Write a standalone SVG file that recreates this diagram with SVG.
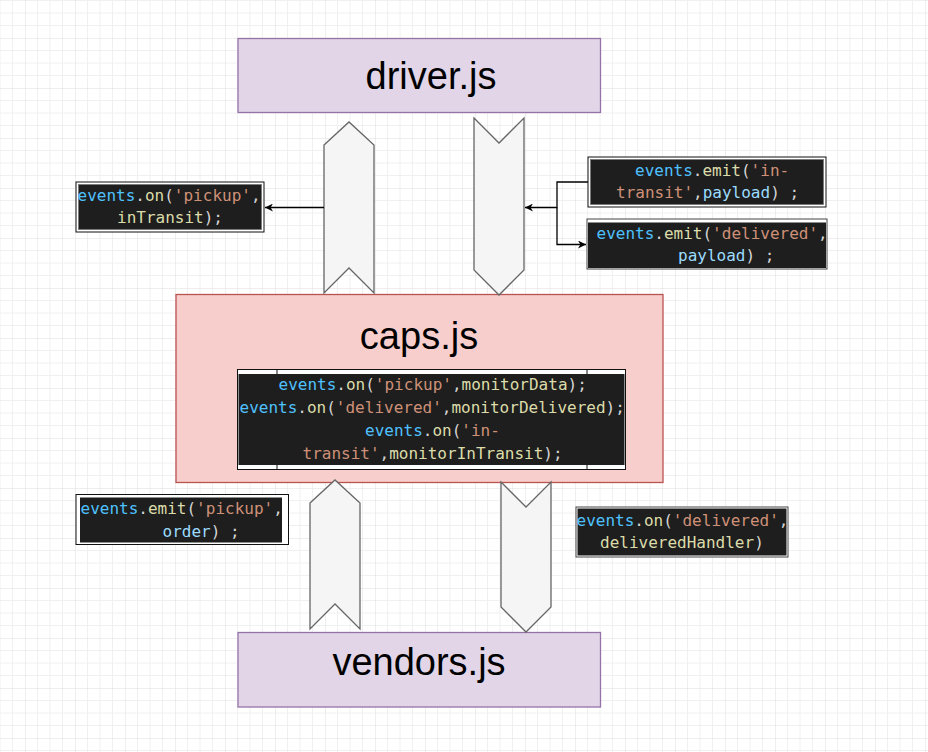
<svg xmlns="http://www.w3.org/2000/svg" width="928" height="752" viewBox="0 0 928 752">
<style>
.title{font-family:"Liberation Sans",Arial,sans-serif;font-size:38px;fill:#000;text-anchor:middle}
.code{font-family:"DejaVu Sans Mono","Liberation Mono",monospace;font-size:16px;fill:#d4d4d4}
.v{fill:#4fc1ff}.f{fill:#dcdcaa}.s{fill:#ce9178}.p{fill:#9cdcfe}
.js{fill:#e1d5e7;stroke:#9673a6;stroke-width:1.3}
.caps{fill:#f8cecc;stroke:#b85450;stroke-width:1.3}
.flow{fill:#f5f5f5;stroke:#666;stroke-width:1.3}
.outer{fill:#fff;stroke:#111;stroke-width:1}
.inner{fill:#1e1e1e}
.edge{fill:none;stroke:#000;stroke-width:1.3}
</style>
<defs>
<pattern id="grid" x="25" y="38" width="50" height="50" patternUnits="userSpaceOnUse">
<path d="M12.5,0V50M25,0V50M37.5,0V50M0,12.5H50M0,25H50M0,37.5H50" stroke="#f0f0f0" stroke-width="1" fill="none"/>
<path d="M0,0V50M0,0H50" stroke="#dedede" stroke-width="1" fill="none"/>
</pattern>
<marker id="arr" viewBox="0 0 10 10" refX="10" refY="5" markerWidth="9" markerHeight="8" markerUnits="userSpaceOnUse" orient="auto">
<path d="M0,0L10,5L0,10L3,5Z" fill="#000"/>
</marker>
</defs>
<rect width="928" height="752" fill="#fff"/>
<rect width="928" height="752" fill="url(#grid)"/>

<g id="driver">
<rect class="js" x="238" y="38.5" width="362.5" height="74"/>
<text class="title" x="431" y="89">driver.js</text>
</g>
<g id="caps">
<rect class="caps" x="176" y="294.5" width="487" height="188"/>
<text class="title" x="419" y="349">caps.js</text>
</g>
<g id="vendors">
<rect class="js" x="238" y="632.5" width="362.5" height="74.5"/>
<text class="title" x="419" y="675">vendors.js</text>
</g>

<g id="flow-caps-driver"><polygon class="flow" points="324,145 349,122 374,145 374,293 349,268 324,293"/></g>
<g id="flow-driver-caps"><polygon class="flow" points="474,118 499,143 524,118 524,270 499,295 474,270"/></g>
<g id="flow-vendors-caps"><polygon class="flow" points="310,503 335,480 360,503 360,629 335,604 310,629"/></g>
<g id="flow-caps-vendors"><polygon class="flow" points="501,482 526,507 551,482 551,607 526,632 501,607"/></g>

<g id="code-on-pickup">
<rect class="outer" x="76" y="182" width="188" height="50"/>
<rect class="inner" x="78.5" y="184.5" width="183" height="45" stroke="#777" stroke-width="0.8"/>
<text class="code" x="77.5" y="201"><tspan class="v">events</tspan>.<tspan class="f">on</tspan>(<tspan class="s">'pickup'</tspan>,</text>
<text class="code" x="117" y="223"><tspan class="f">inTransit</tspan>);</text>
</g>

<g id="code-emit-intransit">
<rect class="outer" x="588" y="157" width="238" height="50"/>
<rect class="inner" x="590.5" y="159.5" width="233" height="45" stroke="#777" stroke-width="0.8"/>
<text class="code" x="635" y="176"><tspan class="v">events</tspan>.<tspan class="f">emit</tspan>(<tspan class="s">'in-</tspan></text>
<text class="code" x="616" y="198"><tspan class="s">transit'</tspan>,<tspan class="p">payload</tspan>) ;</text>
</g>

<g id="code-emit-delivered">
<rect x="587" y="219" width="240" height="50" fill="#fff" stroke="#444" stroke-width="1"/>
<rect class="inner" x="588" y="222.5" width="238" height="45.5"/>
<text class="code" x="596.5" y="239"><tspan class="v">events</tspan>.<tspan class="f">emit</tspan>(<tspan class="s">'delivered'</tspan>,</text>
<text class="code" x="678" y="261"><tspan class="p">payload</tspan>) ;</text>
</g>

<g id="code-caps">
<rect x="237.5" y="369.5" width="388" height="100" fill="#fff" stroke="#111" stroke-width="1"/>
<rect class="inner" x="238.5" y="374" width="386" height="91"/>
<path d="M277,370V374M587,370V374M277,465V469M587,465V469" stroke="#111" stroke-width="1"/>
<text class="code" x="278.5" y="390"><tspan class="v">events</tspan>.<tspan class="f">on</tspan>(<tspan class="s">'pickup'</tspan>,<tspan class="f">monitorData</tspan>);</text>
<text class="code" x="239.5" y="413"><tspan class="v">events</tspan>.<tspan class="f">on</tspan>(<tspan class="s">'delivered'</tspan>,<tspan class="f">monitorDelivered</tspan>);</text>
<text class="code" x="365" y="436"><tspan class="v">events</tspan>.<tspan class="f">on</tspan>(<tspan class="s">'in-</tspan></text>
<text class="code" x="302.5" y="459"><tspan class="s">transit'</tspan>,<tspan class="f">monitorInTransit</tspan>);</text>
</g>

<g id="code-emit-pickup">
<rect class="outer" x="76" y="494.5" width="212.5" height="50"/>
<rect class="inner" x="80" y="497.5" width="202" height="45"/>
<text class="code" x="80.5" y="514"><tspan class="v">events</tspan>.<tspan class="f">emit</tspan>(<tspan class="s">'pickup'</tspan>,</text>
<text class="code" x="162.5" y="537"><tspan class="p">order</tspan>) ;</text>
</g>

<g id="code-on-delivered">
<rect x="576" y="507" width="212" height="50" fill="#fff" stroke="#444" stroke-width="1"/>
<rect class="inner" x="577.5" y="508.5" width="209" height="47"/>
<text class="code" x="576.5" y="526"><tspan class="v">events</tspan>.<tspan class="f">on</tspan>(<tspan class="s">'delivered'</tspan>,</text>
<text class="code" x="600" y="548"><tspan class="f">deliveredHandler</tspan>)</text>
</g>

<g id="connectors">
<path class="edge" d="M324,207.5H265" marker-end="url(#arr)"/>
<path class="edge" d="M588,182H557V207.5H525" marker-end="url(#arr)"/>
<path class="edge" d="M557,207.5V244.5H586" marker-end="url(#arr)"/>
</g>
</svg>
